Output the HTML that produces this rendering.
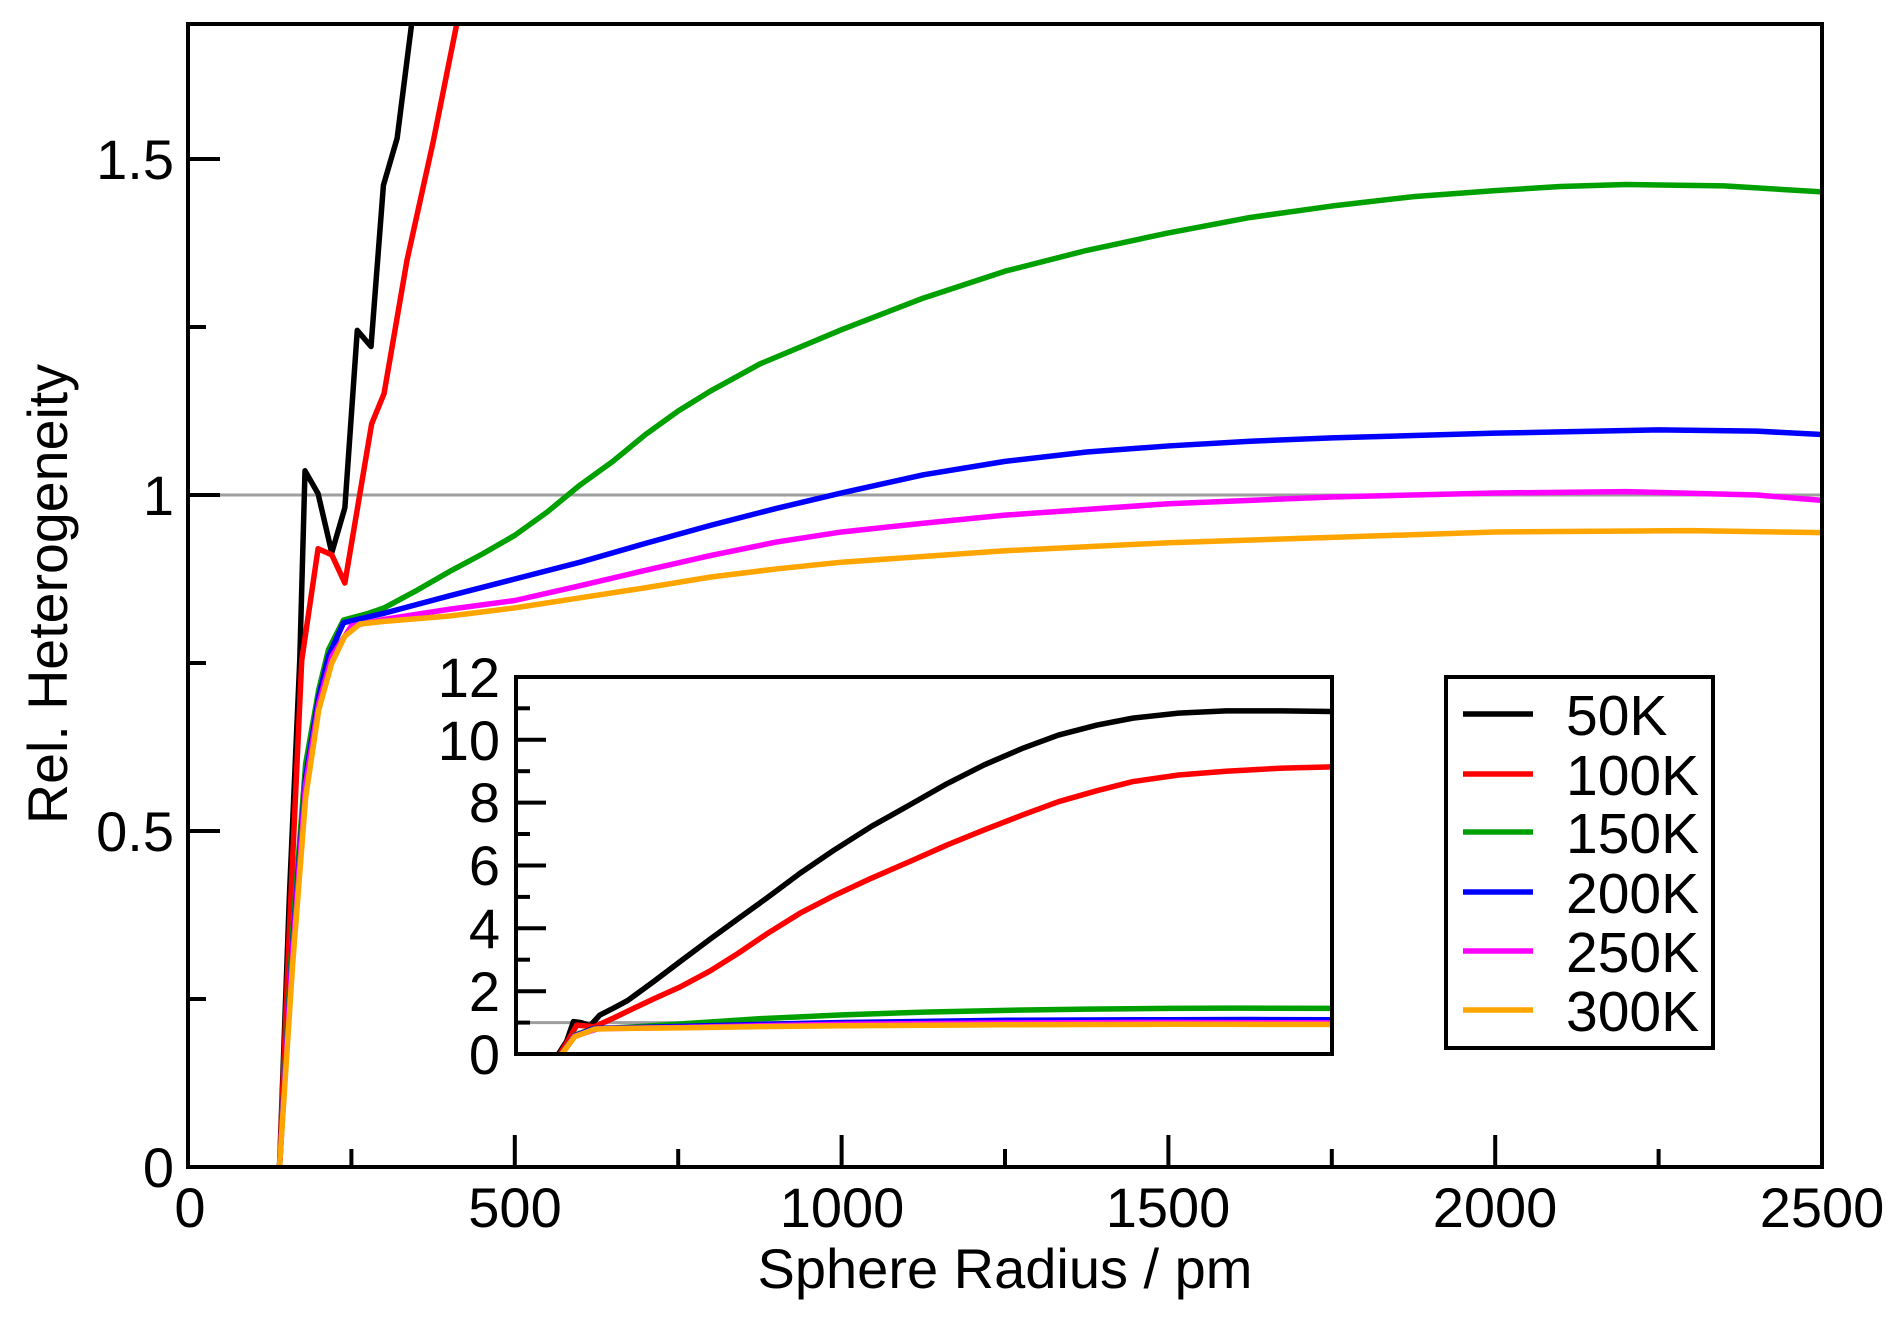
<!DOCTYPE html>
<html><head><meta charset="utf-8"><style>
html,body{margin:0;padding:0;background:#fff;}
svg{display:block;font-family:"Liberation Sans",Arial,sans-serif;}
</style></head><body>
<svg width="1902" height="1320" viewBox="0 0 1902 1320" xmlns="http://www.w3.org/2000/svg">
<defs>
<clipPath id="cm" clipPathUnits="userSpaceOnUse"><rect x="188" y="24" width="1634" height="1143"/></clipPath>
<clipPath id="ci" clipPathUnits="userSpaceOnUse"><rect x="516" y="677" width="816" height="377"/></clipPath>
</defs>
<rect width="1902" height="1320" fill="#fff"/>

<g clip-path="url(#cm)">
<g transform="translate(188,1167) scale(0.6536,-672)" fill="none" stroke-linejoin="round" stroke-linecap="round">
<line x1="0" y1="1" x2="2500" y2="1" stroke="#9e9e9e" stroke-width="3" vector-effect="non-scaling-stroke"/>
<polyline stroke="#000" stroke-width="5.5" vector-effect="non-scaling-stroke" points="140,0 155,0.4 171,0.754 179,1.036 199,1.002 220,0.914 240,0.981 259,1.245 280,1.221 299,1.461 320,1.531 342,1.70 421,2.25"/>
<polyline stroke="#ff0000" stroke-width="5.5" vector-effect="non-scaling-stroke" points="140,0 155,0.35 174,0.754 199,0.92 220,0.911 240,0.869 281,1.106 300,1.151 335,1.349 375,1.525 411,1.70 500,2.1"/>
<polyline stroke="#00a000" stroke-width="5.5" vector-effect="non-scaling-stroke" points="140,0 160,0.35 180,0.6 200,0.71 215,0.77 238,0.814 273,0.823 300,0.832 350,0.858 400,0.886 450,0.912 500,0.94 550,0.975 600,1.015 650,1.05 700,1.09 750,1.125 800,1.155 875,1.195 1000,1.246 1125,1.293 1250,1.333 1375,1.364 1500,1.39 1625,1.413 1750,1.43 1875,1.444 2000,1.453 2100,1.459 2200,1.462 2350,1.46 2500,1.451"/>
<polyline stroke="#0000ff" stroke-width="5.5" vector-effect="non-scaling-stroke" points="140,0 160,0.33 180,0.58 200,0.7 215,0.76 238,0.81 273,0.818 300,0.824 400,0.85 500,0.875 600,0.9 700,0.928 800,0.955 900,0.98 1000,1.003 1125,1.03 1250,1.05 1375,1.064 1500,1.073 1625,1.08 1750,1.085 2000,1.092 2250,1.097 2400,1.095 2500,1.09"/>
<polyline stroke="#ff00ff" stroke-width="5.5" vector-effect="non-scaling-stroke" points="140,0 160,0.32 180,0.57 200,0.69 220,0.76 250,0.805 300,0.815 400,0.83 500,0.843 600,0.865 700,0.888 800,0.91 900,0.93 1000,0.945 1125,0.958 1250,0.97 1500,0.987 1750,0.997 2000,1.003 2200,1.005 2400,1.0 2500,0.992"/>
<polyline stroke="#ffa500" stroke-width="5.5" vector-effect="non-scaling-stroke" points="140,0 160,0.3 180,0.55 200,0.68 220,0.75 240,0.79 263,0.808 300,0.812 400,0.82 500,0.832 600,0.847 700,0.862 800,0.878 900,0.89 1000,0.9 1250,0.917 1500,0.929 1750,0.937 2000,0.945 2300,0.947 2500,0.944"/>
</g>
</g>

<rect x="188" y="24" width="1634" height="1143" fill="none" stroke="#000" stroke-width="4"/>
<g stroke="#000" stroke-width="4">
<line x1="188" y1="1167" x2="188" y2="1135"/><line x1="351.4" y1="1167" x2="351.4" y2="1149"/>
<line x1="514.8" y1="1167" x2="514.8" y2="1135"/><line x1="678.2" y1="1167" x2="678.2" y2="1149"/>
<line x1="841.6" y1="1167" x2="841.6" y2="1135"/><line x1="1005" y1="1167" x2="1005" y2="1149"/>
<line x1="1168.4" y1="1167" x2="1168.4" y2="1135"/><line x1="1331.8" y1="1167" x2="1331.8" y2="1149"/>
<line x1="1495.2" y1="1167" x2="1495.2" y2="1135"/><line x1="1658.6" y1="1167" x2="1658.6" y2="1149"/>
<line x1="188" y1="999" x2="206" y2="999"/><line x1="188" y1="831" x2="220" y2="831"/>
<line x1="188" y1="663" x2="206" y2="663"/><line x1="188" y1="495" x2="220" y2="495"/>
<line x1="188" y1="327" x2="206" y2="327"/><line x1="188" y1="159" x2="220" y2="159"/>
</g>
<g font-size="56" fill="#000">
<g text-anchor="middle">
<text x="190" y="1227">0</text><text x="515" y="1227">500</text><text x="842" y="1227">1000</text>
<text x="1168" y="1227">1500</text><text x="1495" y="1227">2000</text><text x="1822" y="1227">2500</text>
<text x="1005" y="1288">Sphere Radius / pm</text>
</g>
<g text-anchor="end">
<text x="174" y="1187">0</text><text x="174" y="851">0.5</text><text x="174" y="515">1</text><text x="174" y="179">1.5</text>
</g>
<text text-anchor="middle" transform="translate(67,594) rotate(-90)" textLength="460" lengthAdjust="spacingAndGlyphs">Rel. Heterogeneity</text>
</g>

<rect x="516" y="677" width="816" height="377" fill="#fff"/>
<g clip-path="url(#ci)">
<g transform="translate(516,1054) scale(0.3264,-31.42)" fill="none" stroke-linejoin="round" stroke-linecap="round">
<line x1="0" y1="1" x2="2500" y2="1" stroke="#9e9e9e" stroke-width="3" vector-effect="non-scaling-stroke"/>
<polyline stroke="#000" stroke-width="5.5" vector-effect="non-scaling-stroke" points="130,0 155,0.4 176,1.03 199,1.0 227,0.9 257,1.24 299,1.461 342,1.7 421,2.3 500,2.92 594,3.65 680,4.3 768,4.96 870,5.75 976,6.5 1090,7.25 1205,7.92 1320,8.6 1434,9.2 1550,9.72 1662,10.15 1780,10.47 1890,10.69 2030,10.85 2175,10.92 2350,10.92 2500,10.9"/>
<polyline stroke="#ff0000" stroke-width="5.5" vector-effect="non-scaling-stroke" points="135,0 155,0.35 186,0.92 240,0.869 300,1.151 375,1.525 421,1.75 500,2.12 594,2.64 680,3.2 768,3.82 870,4.48 976,5.05 1090,5.6 1205,6.12 1320,6.65 1434,7.13 1550,7.6 1662,8.03 1780,8.38 1890,8.67 2030,8.88 2175,9.0 2350,9.1 2500,9.14"/>
<polyline stroke="#00a000" stroke-width="5.5" vector-effect="non-scaling-stroke" points="140,0 180,0.6 238,0.814 300,0.832 400,0.886 566,1.0 750,1.125 1000,1.246 1250,1.333 1500,1.39 1750,1.43 2000,1.453 2200,1.462 2500,1.451"/>
<polyline stroke="#0000ff" stroke-width="5.5" vector-effect="non-scaling-stroke" points="140,0 180,0.58 238,0.81 400,0.85 750,0.944 1000,1.003 1500,1.073 2000,1.092 2250,1.097 2500,1.09"/>
<polyline stroke="#ff00ff" stroke-width="5.5" vector-effect="non-scaling-stroke" points="140,0 180,0.57 250,0.805 500,0.843 750,0.90 1000,0.945 1500,0.987 2000,1.003 2500,0.992"/>
<polyline stroke="#ffa500" stroke-width="5.5" vector-effect="non-scaling-stroke" points="140,0 180,0.55 240,0.79 300,0.812 500,0.832 750,0.87 1000,0.9 1500,0.929 2000,0.945 2500,0.944"/>
</g>
</g>
<rect x="516" y="677" width="816" height="377" fill="none" stroke="#000" stroke-width="4"/>
<g stroke="#000" stroke-width="4">
<line x1="516" y1="991.2" x2="546" y2="991.2"/><line x1="516" y1="928.3" x2="546" y2="928.3"/>
<line x1="516" y1="865.5" x2="546" y2="865.5"/><line x1="516" y1="802.6" x2="546" y2="802.6"/>
<line x1="516" y1="739.8" x2="546" y2="739.8"/>
<line x1="516" y1="1022.6" x2="530" y2="1022.6"/><line x1="516" y1="959.7" x2="530" y2="959.7"/>
<line x1="516" y1="896.9" x2="530" y2="896.9"/><line x1="516" y1="834" x2="530" y2="834"/>
<line x1="516" y1="771.2" x2="530" y2="771.2"/><line x1="516" y1="708.3" x2="530" y2="708.3"/>
</g>
<g font-size="56" fill="#000" text-anchor="end">
<text x="500" y="1074">0</text><text x="500" y="1011">2</text><text x="500" y="948">4</text>
<text x="500" y="885">6</text><text x="500" y="822">8</text><text x="500" y="760">10</text><text x="500" y="697">12</text>
</g>

<rect x="1446" y="677" width="267" height="371" fill="#fff" stroke="#000" stroke-width="4"/>
<g stroke-width="5.5">
<line x1="1463" y1="714" x2="1533" y2="714" stroke="#000"/>
<line x1="1463" y1="774" x2="1533" y2="774" stroke="#ff0000"/>
<line x1="1463" y1="832" x2="1533" y2="832" stroke="#00a000"/>
<line x1="1463" y1="892" x2="1533" y2="892" stroke="#0000ff"/>
<line x1="1463" y1="951" x2="1533" y2="951" stroke="#ff00ff"/>
<line x1="1463" y1="1010" x2="1533" y2="1010" stroke="#ffa500"/>
</g>
<g font-size="57" fill="#000">
<text x="1566" y="735">50K</text><text x="1566" y="795">100K</text><text x="1566" y="853">150K</text>
<text x="1566" y="913">200K</text><text x="1566" y="972">250K</text><text x="1566" y="1031">300K</text>
</g>
</svg>
</body></html>
